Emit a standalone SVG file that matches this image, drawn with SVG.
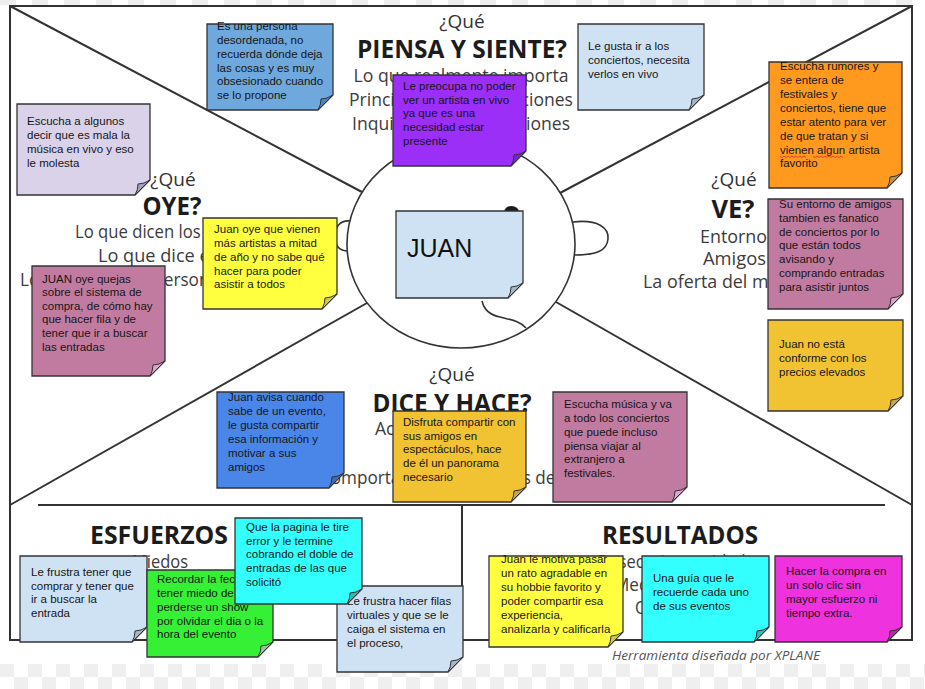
<svg xmlns="http://www.w3.org/2000/svg" width="925" height="689" viewBox="0 0 925 689">
<defs>
<pattern id="chk" x="0" y="664" width="28" height="26" patternUnits="userSpaceOnUse">
<rect width="28" height="26" fill="#ffffff"/>
<rect width="14" height="13" fill="#efefef"/>
<rect x="14" y="13" width="14" height="13" fill="#efefef"/>
</pattern>
<pattern id="chkTop" x="0" y="0" width="32" height="6" patternUnits="userSpaceOnUse">
<rect width="32" height="6" fill="#ffffff"/>
<rect width="16" height="6" fill="#eeeeee"/>
</pattern>
<style>
.ln{stroke:#333;stroke-width:2;fill:none}
.face{stroke:#333;stroke-width:1.6;fill:none}
.q{font-family:"Open Sans","Noto Sans",sans-serif;font-size:19px;fill:#333}
.h{font-family:"Open Sans","Noto Sans",sans-serif;font-size:25px;font-weight:bold;fill:#1c1c1c}
.s{font-family:"Open Sans","Noto Sans",sans-serif;font-size:18.5px;fill:#3c3c3c}
.cr{font-family:"Open Sans","Noto Sans",sans-serif;font-size:13px;font-style:italic;fill:#555}
.nb{stroke:#333;stroke-width:1.3}
.fl{stroke:#333;stroke-width:1}
.nt{font-family:"Liberation Sans",Arial,sans-serif;font-size:11.5px;fill:#161616}
.lb{fill:#cfe2f3}.lbf{fill:#a7b6c4}
.lav{fill:#d9d2e9}.lavf{fill:#a39eb9}
.yl{fill:#ffff3f}.ylf{fill:#d2cc3a}
.pk{fill:#c27ba0}.pkf{fill:#dba6c9}
.pu{fill:#9b2ff7}.puf{fill:#7f24cc}
.or{fill:#ff9a1f}.orf{fill:#c98e4a}
.gd{fill:#f1c232}.gdf{fill:#c9a54a}
.bl{fill:#6fa8dc}.blf{fill:#4f83b8}
.db{fill:#4a86e8}.dbf{fill:#3a6cc0}
.gr{fill:#35f035}.grf{fill:#8fc98f}
.cy{fill:#33ffff}.cyf{fill:#2bbcbc}
.mg{fill:#ee32de}.mgf{fill:#b52aa8}
</style>
</defs>

<rect width="925" height="689" fill="#ffffff"/>
<rect x="0" y="0" width="925" height="5" fill="url(#chkTop)"/>
<rect x="0" y="664" width="925" height="25" fill="url(#chk)"/>

<g id="connectors">
<rect class="ln" x="10" y="6" width="902" height="634"/>
<line class="ln" x1="10" y1="6" x2="362" y2="192"/>
<line class="ln" x1="912" y1="6" x2="560" y2="193"/>
<line class="ln" x1="10" y1="505" x2="367" y2="303"/>
<line class="ln" x1="912" y1="505" x2="556" y2="302"/>
<line class="ln" x1="38" y1="505" x2="885" y2="505"/>
<line class="ln" x1="462" y1="505" x2="462" y2="640"/>
</g>

<g id="face">
<ellipse class="face" cx="461" cy="244" rx="114" ry="104"/>
<path class="face" d="M350,221 C340,220 335,227 335,236 C335,245 339,251 348,251"/>
<path class="face" d="M573,222 C598,219 609,228 608,239 C607,251 596,255 575,255"/>
<ellipse cx="511.5" cy="212" rx="7.5" ry="6" fill="#1a1a1a"/>
<path class="face" d="M482,301 C484,310 490,315 500,317 C512,320 520,321 526,328"/>
</g>

<g id="headings">
<text class="q" x="462" y="28" text-anchor="middle">¿Qué</text>
<text class="h" x="462" y="58" text-anchor="middle" textLength="210" lengthAdjust="spacingAndGlyphs">PIENSA Y SIENTE?</text>
<text class="s" x="461" y="82" text-anchor="middle" textLength="215" lengthAdjust="spacingAndGlyphs">Lo que realmente importa</text>
<text class="s" x="461" y="106" text-anchor="middle" textLength="224" lengthAdjust="spacingAndGlyphs">Principales preocupaciones</text>
<text class="s" x="461" y="130" text-anchor="middle" textLength="218" lengthAdjust="spacingAndGlyphs">Inquietudes y aspiraciones</text>

<text class="q" x="173" y="186" text-anchor="middle">¿Qué</text>
<text class="h" x="172" y="215" text-anchor="middle" textLength="59" lengthAdjust="spacingAndGlyphs">OYE?</text>
<text class="s" x="75" y="238" textLength="186" lengthAdjust="spacingAndGlyphs">Lo que dicen los amigos</text>
<text class="s" x="98" y="262" textLength="152" lengthAdjust="spacingAndGlyphs">Lo que dice el jefe</text>
<text class="s" x="20" y="286" textLength="300" lengthAdjust="spacingAndGlyphs">Lo que dicen las personas influyentes</text>

<text class="q" x="734" y="186" text-anchor="middle">¿Qué</text>
<text class="h" x="733" y="218" text-anchor="middle" textLength="43" lengthAdjust="spacingAndGlyphs">VE?</text>
<text class="s" x="700" y="243" textLength="67" lengthAdjust="spacingAndGlyphs">Entorno</text>
<text class="s" x="703" y="265" textLength="63" lengthAdjust="spacingAndGlyphs">Amigos</text>
<text class="s" x="643" y="288" textLength="183" lengthAdjust="spacingAndGlyphs">La oferta del mercado</text>

<text class="q" x="452" y="381" text-anchor="middle">¿Qué</text>
<text class="h" x="452" y="412" text-anchor="middle" textLength="159" lengthAdjust="spacingAndGlyphs">DICE Y HACE?</text>
<text class="s" x="375" y="435" textLength="148" lengthAdjust="spacingAndGlyphs">Actitud en público</text>
<text class="s" x="452" y="459" text-anchor="middle">Aspecto</text>
<text class="s" x="320" y="484" textLength="269" lengthAdjust="spacingAndGlyphs">Comportamiento hacia los demás</text>

<text class="h" x="159" y="544" text-anchor="middle" textLength="138" lengthAdjust="spacingAndGlyphs">ESFUERZOS</text>
<text class="s" x="160" y="568" text-anchor="middle" textLength="56" lengthAdjust="spacingAndGlyphs">Miedos</text>
<text class="s" x="160" y="591" text-anchor="middle" textLength="110" lengthAdjust="spacingAndGlyphs">Frustraciones</text>
<text class="s" x="160" y="614" text-anchor="middle" textLength="84" lengthAdjust="spacingAndGlyphs">Obstáculos</text>

<text class="h" x="680" y="544" text-anchor="middle" textLength="156" lengthAdjust="spacingAndGlyphs">RESULTADOS</text>
<text class="s" x="680" y="568" text-anchor="middle" textLength="165" lengthAdjust="spacingAndGlyphs">Deseos / necesidades</text>
<text class="s" x="680" y="591" text-anchor="middle" textLength="132" lengthAdjust="spacingAndGlyphs">Medida del éxito</text>
<text class="s" x="677" y="614" text-anchor="middle" textLength="84" lengthAdjust="spacingAndGlyphs">Obstáculos</text>

<text class="cr" x="612" y="660" textLength="208" lengthAdjust="spacingAndGlyphs">Herramienta diseñada por XPLANE</text>
</g>

<g id="note-desordenada" transform="translate(207,24)">
<path class="nb bl" d="M0,0H126V71L111,86H0Z"/>
<path class="fl blf" d="M126,71Q120,75 114,75Q114,81 111,86Z"/>
<text class="nt"><tspan x="10" y="6">Es una persona</tspan><tspan x="10" y="20">desordenada, no</tspan><tspan x="10" y="34">recuerda dónde deja</tspan><tspan x="10" y="48">las cosas y es muy</tspan><tspan x="10" y="61">obsesionado cuando</tspan><tspan x="10" y="75">se lo propone</tspan></text>
</g>

<g id="note-escucha-mala" transform="translate(17,104)">
<path class="nb lav" d="M0,0H133V76L118,91H0Z"/>
<path class="fl lavf" d="M133,76Q127,80 121,80Q121,86 118,91Z"/>
<text class="nt"><tspan x="10" y="21">Escucha a algunos</tspan><tspan x="10" y="35">decir que es mala la</tspan><tspan x="10" y="49">música en vivo y eso</tspan><tspan x="10" y="63">le molesta</tspan></text>
</g>

<g id="note-gusta" transform="translate(578,24)">
<path class="nb lb" d="M0,0H126V71L111,86H0Z"/>
<path class="fl lbf" d="M126,71Q120,75 114,75Q114,81 111,86Z"/>
<text class="nt"><tspan x="10" y="26">Le gusta ir a los</tspan><tspan x="10" y="40">conciertos, necesita</tspan><tspan x="10" y="54">verlos en vivo</tspan></text>
</g>

<g id="note-preocupa" transform="translate(393,75)">
<path class="nb pu" d="M0,0H133V76L118,91H0Z"/>
<path class="fl puf" d="M133,76Q127,80 121,80Q121,86 118,91Z"/>
<text class="nt"><tspan x="10" y="15">Le preocupa no poder</tspan><tspan x="10" y="29">ver un artista en vivo</tspan><tspan x="10" y="42">ya que es una</tspan><tspan x="10" y="56">necesidad estar</tspan><tspan x="10" y="70">presente</tspan></text>
</g>

<g id="note-rumores" transform="translate(769,62)">
<path class="nb or" d="M0,0H133V111L118,126H0Z"/>
<path class="fl orf" d="M133,111Q127,115 121,115Q121,121 118,126Z"/>
<text class="nt"><tspan x="11" y="8">Escucha rumores y</tspan><tspan x="11" y="22">se entera de</tspan><tspan x="11" y="36">festivales y</tspan><tspan x="11" y="50">conciertos, tiene que</tspan><tspan x="11" y="64">estar atento para ver</tspan><tspan x="11" y="78">de que tratan y si</tspan><tspan x="11" y="92">vienen algun artista</tspan><tspan x="11" y="105">favorito</tspan></text>
<polyline fill="none" stroke="#e03030" stroke-width="0.8" points="11,94 13,95.5 15,94 17,95.5 19,94 21,95.5 23,94 25,95.5 27,94 29,95.5 31,94 33,95.5 35,94 37,95.5"/>
<polyline fill="none" stroke="#e03030" stroke-width="0.8" points="44,94 46,95.5 48,94 50,95.5 52,94 54,95.5 56,94 58,95.5 60,94 62,95.5 64,94 66,95.5 68,94 70,95.5 72,94 74,95.5"/>
</g>

<g id="note-entorno" transform="translate(768,199)">
<path class="nb pk" d="M0,0H135V95L120,110H0Z"/>
<path class="fl pkf" d="M135,95Q129,99 123,99Q123,105 120,110Z"/>
<text class="nt"><tspan x="11" y="9">Su entorno de amigos</tspan><tspan x="11" y="23">tambien es fanatico</tspan><tspan x="11" y="37">de conciertos por lo</tspan><tspan x="11" y="50">que están todos</tspan><tspan x="11" y="64">avisando y</tspan><tspan x="11" y="78">comprando entradas</tspan><tspan x="11" y="92">para asistir juntos</tspan></text>
</g>

<g id="note-precios" transform="translate(768,320)">
<path class="nb gd" d="M0,0H135V76L120,91H0Z"/>
<path class="fl gdf" d="M135,76Q129,80 123,80Q123,86 120,91Z"/>
<text class="nt"><tspan x="11" y="28">Juan no está</tspan><tspan x="11" y="42">conforme con los</tspan><tspan x="11" y="56">precios elevados</tspan></text>
</g>

<g id="note-juan" transform="translate(396,211)">
<path class="nb lb" d="M0,0H127V72L112,87H0Z"/>
<path class="fl lbf" d="M127,72Q121,76 115,76Q115,82 112,87Z"/>
<text x="11" y="46" font-family="Liberation Sans, Arial, sans-serif" font-size="25" fill="#111">JUAN</text>
</g>

<g id="note-vienen" transform="translate(203,218)">
<path class="nb yl" d="M0,0H134V76L119,91H0Z"/>
<path class="fl ylf" d="M134,76Q128,80 122,80Q122,86 119,91Z"/>
<text class="nt"><tspan x="11" y="15">Juan oye que vienen</tspan><tspan x="11" y="29">más artistas a mitad</tspan><tspan x="11" y="43">de año y no sabe qué</tspan><tspan x="11" y="57">hacer para poder</tspan><tspan x="11" y="70">asistir a todos</tspan></text>
</g>

<g id="note-quejas" transform="translate(32,266)">
<path class="nb pk" d="M0,0H133V95L118,110H0Z"/>
<path class="fl pkf" d="M133,95Q127,99 121,99Q121,105 118,110Z"/>
<text class="nt"><tspan x="10" y="17">JUAN oye quejas</tspan><tspan x="10" y="30">sobre el sistema de</tspan><tspan x="10" y="44">compra, de cómo hay</tspan><tspan x="10" y="57">que hacer fila y de</tspan><tspan x="10" y="71">tener que ir a buscar</tspan><tspan x="10" y="85">las entradas</tspan></text>
</g>

<g id="note-avisa" transform="translate(217,392)">
<path class="nb db" d="M0,0H127V81L112,96H0Z"/>
<path class="fl dbf" d="M127,81Q121,85 115,85Q115,91 112,96Z"/>
<text class="nt"><tspan x="11" y="9">Juan avisa cuando</tspan><tspan x="11" y="23">sabe de un evento,</tspan><tspan x="11" y="37">le gusta compartir</tspan><tspan x="11" y="51">esa información y</tspan><tspan x="11" y="65">motivar a sus</tspan><tspan x="11" y="79">amigos</tspan></text>
</g>

<g id="note-disfruta" transform="translate(393,411)">
<path class="nb gd" d="M0,0H133V76L118,91H0Z"/>
<path class="fl gdf" d="M133,76Q127,80 121,80Q121,86 118,91Z"/>
<text class="nt"><tspan x="10" y="15">Disfruta compartir con</tspan><tspan x="10" y="29">sus amigos en</tspan><tspan x="10" y="42">espectáculos, hace</tspan><tspan x="10" y="56">de él un panorama</tspan><tspan x="10" y="70">necesario</tspan></text>
</g>

<g id="note-escucha-musica" transform="translate(553,392)">
<path class="nb pk" d="M0,0H134V95L119,110H0Z"/>
<path class="fl pkf" d="M134,95Q128,99 122,99Q122,105 119,110Z"/>
<text class="nt"><tspan x="11" y="16">Escucha música y va</tspan><tspan x="11" y="30">a todo los conciertos</tspan><tspan x="11" y="44">que puede incluso</tspan><tspan x="11" y="58">piensa viajar al</tspan><tspan x="11" y="71">extranjero a</tspan><tspan x="11" y="85">festivales.</tspan></text>
</g>

<g id="note-frustra-comprar" transform="translate(20,556)">
<path class="nb lb" d="M0,0H127V71L112,86H0Z"/>
<path class="fl lbf" d="M127,71Q121,75 115,75Q115,81 112,86Z"/>
<text class="nt"><tspan x="11" y="20">Le frustra tener que</tspan><tspan x="11" y="34">comprar y tener que</tspan><tspan x="11" y="47">ir a buscar la</tspan><tspan x="11" y="61">entrada</tspan></text>
</g>

<g id="note-recordar" transform="translate(147,570)">
<path class="nb gr" d="M0,0H126V72L111,87H0Z"/>
<path class="fl grf" d="M126,72Q120,76 114,76Q114,82 111,87Z"/>
<text class="nt"><tspan x="10" y="13">Recordar la fecha y</tspan><tspan x="10" y="27">tener miedo de</tspan><tspan x="10" y="41">perderse un show</tspan><tspan x="10" y="55">por olvidar el dia o la</tspan><tspan x="10" y="68">hora del evento</tspan></text>
</g>

<g id="note-filas" transform="translate(337,586)">
<path class="nb lb" d="M0,0H126V71L111,86H0Z"/>
<path class="fl lbf" d="M126,71Q120,75 114,75Q114,81 111,86Z"/>
<text class="nt"><tspan x="10" y="19">Le frustra hacer filas</tspan><tspan x="10" y="33">virtuales y que se le</tspan><tspan x="10" y="47">caiga el sistema en</tspan><tspan x="10" y="61">el proceso,</tspan></text>
</g>

<g id="note-pagina" transform="translate(235,518)">
<path class="nb cy" d="M0,0H127V71L112,86H0Z"/>
<path class="fl cyf" d="M127,71Q121,75 115,75Q115,81 112,86Z"/>
<text class="nt"><tspan x="11" y="13">Que la pagina le tire</tspan><tspan x="11" y="27">error y le termine</tspan><tspan x="11" y="40">cobrando el doble de</tspan><tspan x="11" y="54">entradas de las que</tspan><tspan x="11" y="68">solicitó</tspan></text>
</g>

<g id="note-motiva" transform="translate(489,556)">
<path class="nb yl" d="M0,0H134V76L119,91H0Z"/>
<path class="fl ylf" d="M134,76Q128,80 122,80Q122,86 119,91Z"/>
<text class="nt"><tspan x="12" y="7">Juan le motiva pasar</tspan><tspan x="12" y="21">un rato agradable en</tspan><tspan x="12" y="35">su hobbie favorito y</tspan><tspan x="12" y="49">poder compartir esa</tspan><tspan x="12" y="63">experiencia,</tspan><tspan x="12" y="77">analizarla y calificarla</tspan></text>
</g>

<g id="note-guia" transform="translate(642,556)">
<path class="nb cy" d="M0,0H127V71L112,86H0Z"/>
<path class="fl cyf" d="M127,71Q121,75 115,75Q115,81 112,86Z"/>
<text class="nt"><tspan x="11" y="26">Una guía que le</tspan><tspan x="11" y="40">recuerde cada uno</tspan><tspan x="11" y="54">de sus eventos</tspan></text>
</g>

<g id="note-compra" transform="translate(775,556)">
<path class="nb mg" d="M0,0H127V71L112,86H0Z"/>
<path class="fl mgf" d="M127,71Q121,75 115,75Q115,81 112,86Z"/>
<text class="nt" fill="#2a0020"><tspan x="11" y="19">Hacer la compra en</tspan><tspan x="11" y="33">un solo clic sin</tspan><tspan x="11" y="47">mayor esfuerzo ni</tspan><tspan x="11" y="61">tiempo extra.</tspan></text>
</g>
</svg>
